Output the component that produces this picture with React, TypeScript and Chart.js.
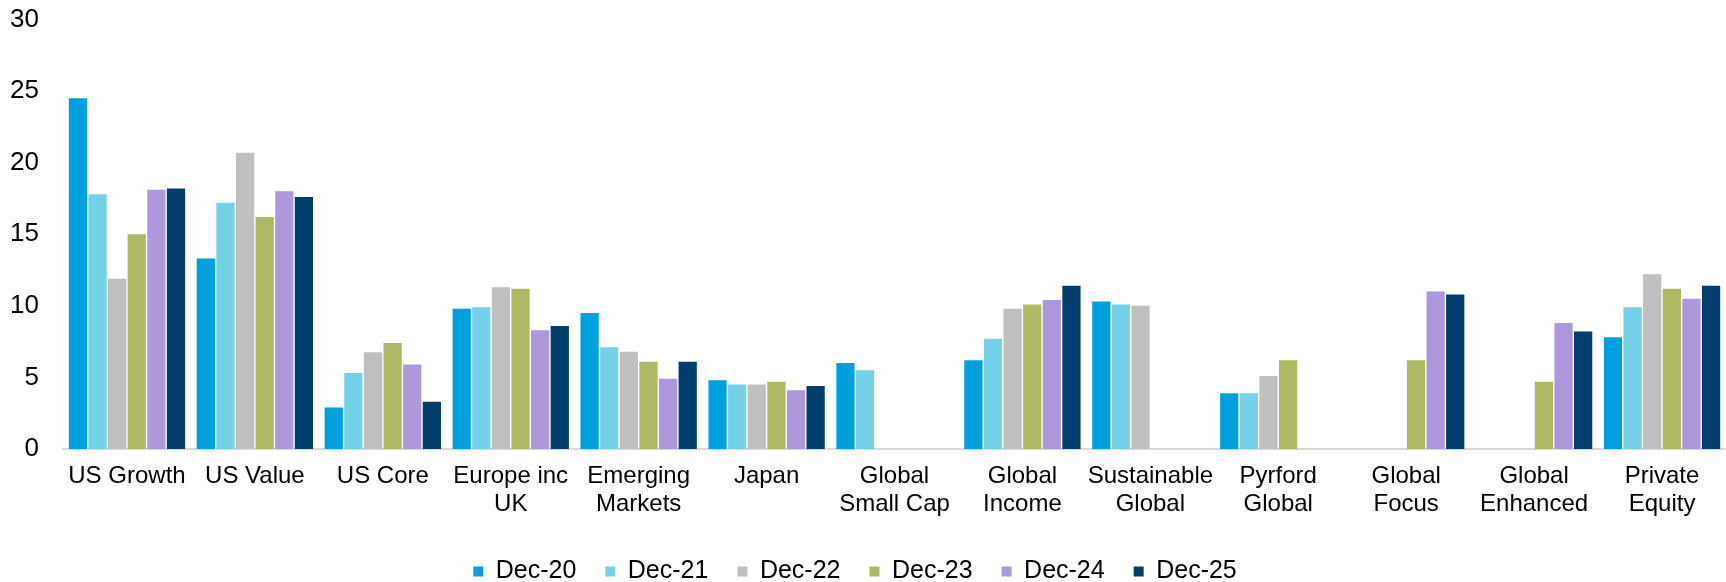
import { useEffect, useRef } from "react";
import { Chart, registerables } from "chart.js";

Chart.register(...registerables);

const categories: (string | string[])[] = [
  "US Growth",
  "US Value",
  "US Core",
  ["Europe inc", "UK"],
  ["Emerging", "Markets"],
  "Japan",
  ["Global", "Small Cap"],
  ["Global", "Income"],
  ["Sustainable", "Global"],
  ["Pyrford", "Global"],
  ["Global", "Focus"],
  ["Global", "Enhanced"],
  ["Private", "Equity"],
];

const seriesNames = ["Dec-20", "Dec-21", "Dec-22", "Dec-23", "Dec-24", "Dec-25"];

const dec20 = [24.5, 13.3, 2.9, 9.8, 9.5, 4.8, 6.0, 6.2, 10.3, 3.9, null, null, 7.8];
const dec21 = [17.8, 17.2, 5.3, 9.9, 7.1, 4.5, 5.5, 7.7, 10.1, 3.9, null, null, 9.9];
const dec22 = [11.9, 20.7, 6.75, 11.3, 6.8, 4.5, null, 9.8, 10.0, 5.1, null, null, 12.2];
const dec23 = [15.0, 16.2, 7.4, 11.2, 6.1, 4.7, null, 10.1, null, 6.2, 6.2, 4.7, 11.2];
const dec24 = [18.1, 18.0, 5.9, 8.3, 4.9, 4.1, null, 10.4, null, null, 11.0, 8.8, 10.5];
const dec25 = [18.2, 17.6, 3.3, 8.6, 6.1, 4.4, null, 11.4, null, null, 10.8, 8.2, 11.4];

const seriesValues = [dec20, dec21, dec22, dec23, dec24, dec25];
const seriesColors = ["#00A0DF", "#75D1E6", "#BFBFBF", "#AFB964", "#AD98DC", "#003E6B"];

const yMin = 0;
const yMax = 30;
const yStep = 5;

const FONT = "'Liberation Sans', Arial, sans-serif";

export default function App() {
  const canvasRef = useRef<HTMLCanvasElement | null>(null);

  useEffect(() => {
    document.body.style.margin = "0";
    const canvas = canvasRef.current;
    if (!canvas) return;
    const chart = new Chart(canvas, {
      type: "bar",
      data: {
        labels: categories,
        datasets: seriesNames.map((name, i) => ({
          label: name,
          data: seriesValues[i],
          backgroundColor: seriesColors[i],
          borderWidth: 0,
          categoryPercentage: 0.92,
          barPercentage: 0.93,
        })),
      },
      options: {
        animation: false,
        responsive: false,
        maintainAspectRatio: false,
        layout: { padding: { top: 19.5, right: 0, left: -16, bottom: -12 } },
        plugins: {
          tooltip: { enabled: false },
          legend: {
            position: "bottom",
            labels: {
              color: "#000",
              font: { family: FONT, size: 25 },
              boxWidth: 10,
              boxHeight: 10,
              padding: 29,
            },
          },
        },
        scales: {
          x: {
            grid: { display: false, drawTicks: false },
            border: { display: true, color: "#D9D9D9", width: 2 },
            ticks: {
              color: "#000",
              font: { family: FONT, size: 24, lineHeight: 1.14 },
              padding: 14,
              maxRotation: 0,
              autoSkip: false,
            },
            afterFit: (scale: any) => {
              scale.height = 81;
            },
          },
          y: {
            min: yMin,
            max: yMax,
            grid: { display: false, drawTicks: false },
            border: { display: false },
            ticks: {
              stepSize: yStep,
              color: "#000",
              font: { family: FONT, size: 26 },
              padding: 24,
            },
            afterFit: (scale: any) => {
              scale.width = 79;
              scale.paddingTop = 0;
              scale.paddingBottom = 0;
            },
          },
        },
      },
    });
    return () => chart.destroy();
  }, []);

  return (
    <div style={{ width: 1726, height: 582, background: "#fff" }}>
      <canvas ref={canvasRef} width={1726} height={582} style={{ display: "block" }} />
    </div>
  );
}
